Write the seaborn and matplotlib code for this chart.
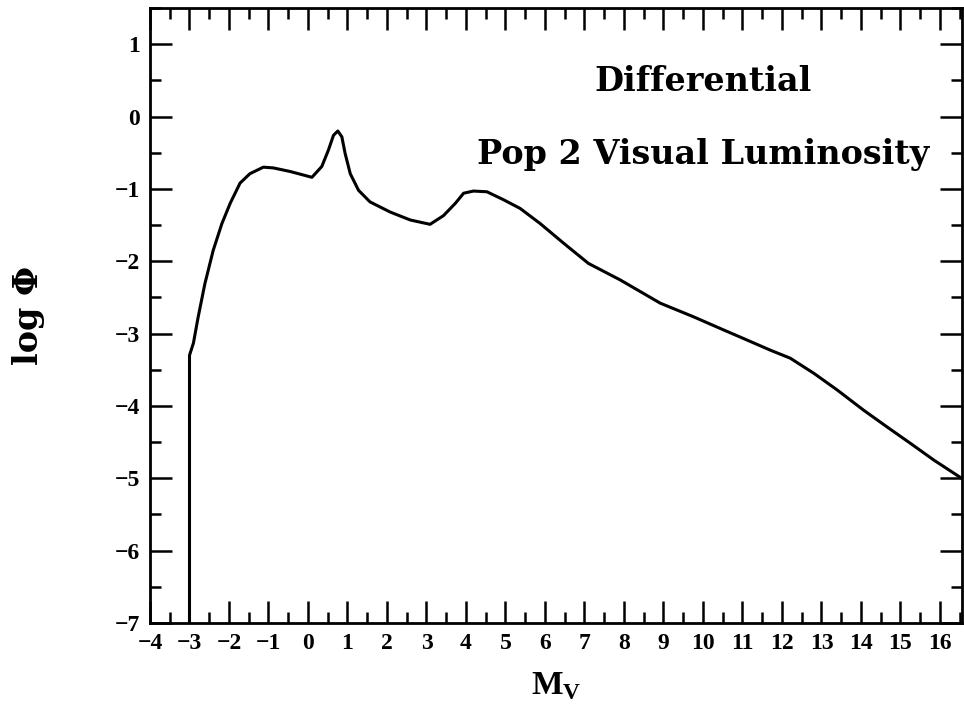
import numpy as np
import pandas as pd
import matplotlib
matplotlib.use("Agg")
import matplotlib.pyplot as plt
import seaborn as sns
from matplotlib.ticker import MultipleLocator

# Data
mv = [-3.0, -3.0, -2.9, -2.78, -2.61, -2.4, -2.18, -1.97, -1.72, -1.47, -1.13, -0.88,
      -0.45, 0.10, 0.35, 0.52, 0.645, 0.755, 0.857, 0.94, 1.07, 1.28, 1.57, 2.08, 2.59,
      3.09, 3.43, 3.73, 3.94, 4.19, 4.53, 4.95, 5.37, 5.88, 6.47, 7.10, 7.91, 8.92,
      9.77, 10.44, 10.95, 11.71, 12.21, 12.81, 13.40, 14.07, 14.66, 15.26, 15.85, 16.55]
log_phi = [-7.0, -3.3, -3.13, -2.77, -2.31, -1.85, -1.48, -1.20, -0.92, -0.79, -0.70, -0.71,
           -0.76, -0.84, -0.69, -0.46, -0.26, -0.20, -0.28, -0.51, -0.79, -1.02, -1.18, -1.32, -1.43,
           -1.49, -1.37, -1.20, -1.06, -1.03, -1.04, -1.15, -1.27, -1.48, -1.75, -2.03, -2.26, -2.58,
           -2.77, -2.93, -3.05, -3.23, -3.34, -3.55, -3.78, -4.06, -4.29, -4.52, -4.75, -5.0]
x_ticks = list(range(-4, 17))
y_ticks = list(range(-7, 2))

df = pd.DataFrame({"Mv": mv, "logPhi": log_phi})

sns.set_style("ticks")
plt.rcParams["font.family"] = ["Liberation Serif", "DejaVu Serif"]
plt.rcParams["font.weight"] = "bold"
plt.rcParams["text.color"] = "black"
plt.rcParams["axes.labelcolor"] = "black"
plt.rcParams["xtick.color"] = "black"
plt.rcParams["ytick.color"] = "black"
plt.rcParams["mathtext.fontset"] = "custom"
plt.rcParams["mathtext.rm"] = "Liberation Serif:bold"
plt.rcParams["mathtext.bf"] = "Liberation Serif:bold"

fig = plt.figure(figsize=(9.64, 7.07), dpi=100)
ax = fig.add_axes([0.1556, 0.1188, 0.998 - 0.1556, 0.9887 - 0.1188])

sns.lineplot(data=df, x="Mv", y="logPhi", sort=False, estimator=None,
             color="black", linewidth=2.2, ax=ax)
ax.lines[0].set_solid_joinstyle("round")

ax.set_xlim(-4, 16.56)
ax.set_ylim(-7, 1.5)
ax.set_xticks(x_ticks)
ax.set_yticks(y_ticks)
ax.xaxis.set_minor_locator(MultipleLocator(0.5))
ax.yaxis.set_minor_locator(MultipleLocator(0.5))
ax.tick_params(which="both", direction="in", top=True, right=True, width=1.8,
               color="black", labelcolor="black")
ax.tick_params(which="major", length=16, labelsize=17, pad=7)
ax.tick_params(which="minor", length=8)
ax.set_xticklabels([str(v).replace("-", "\u2212") for v in x_ticks], fontweight="bold")
ax.set_yticklabels([str(v).replace("-", "\u2212") for v in y_ticks], fontweight="bold")
for s in ax.spines.values():
    s.set_linewidth(2.0)
    s.set_color("black")

ax.set_xlabel(r"M$_\mathrm{V}$", fontsize=24, fontweight="bold", labelpad=12, color="black")
ax.set_ylabel("log Φ", fontsize=24, fontweight="bold", labelpad=50,
              family=["DejaVu Serif"], color="black")

ax.text(10.0, 0.48, "Differential", ha="center", va="center", fontsize=24,
        fontweight="bold", family=["DejaVu Serif"], color="black")
ax.text(10.0, -0.53, "Pop 2 Visual Luminosity", ha="center", va="center", fontsize=24,
        fontweight="bold", family=["DejaVu Serif"], color="black")

fig.savefig("out.png", dpi=100)
